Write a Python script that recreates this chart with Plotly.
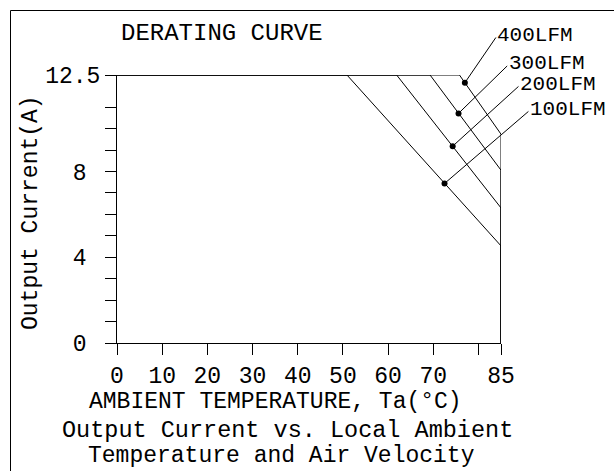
import plotly.graph_objects as go

# ---------------- data ----------------
airflow_labels = ["100LFM", "200LFM", "300LFM", "400LFM"]
derating_start_temp = [50.9, 61.9, 69.3, 75.8]     # °C where derating begins
current_at_85C = [4.53, 6.30, 8.06, 9.74]           # A at 85 °C
max_current = 12.5
max_temp = 85
marker_temp = [72.5, 74.3, 75.6, 77.0]
marker_current = [7.44, 9.18, 10.71, 12.14]
label_temp = [91.4, 89.2, 86.7, 84.1]
label_current = [10.86, 12.03, 12.99, 14.32]

x_tick_vals = [0, 10, 20, 30, 40, 50, 60, 70, 80, 85]
x_tick_text = ["0", "10", "20", "30", "40", "50", "60", "70", "", "85"]
y_tick_vals = [0, 1, 2, 3, 4, 5, 6, 7, 8, 9, 10, 11, 12.5]
y_tick_text = ["0\u00a0", "", "", "", "4\u00a0", "", "", "", "8\u00a0", "", "", "", "12.5"]

# ---------------- layout geometry ----------------
W, H = 614, 471
ML, MR, MT, MB = 117, 113, 75, 128
PW, PH = W - ML - MR, H - MT - MB


def px(x):
    return (x - ML) / PW


def py(y):
    return (H - MB - y) / PH


FONT = "Liberation Mono"
BLACK = "#000000"

fig = go.Figure()

# derating curves
for i, name in enumerate(airflow_labels):
    fig.add_trace(go.Scatter(
        x=[0, derating_start_temp[i], max_temp, max_temp],
        y=[max_current, max_current, current_at_85C[i], 0],
        mode="lines",
        line=dict(color=BLACK, width=1),
        cliponaxis=False,
        hoverinfo="skip",
        showlegend=False,
        name=name,
    ))

# dots on curves
fig.add_trace(go.Scatter(
    x=marker_temp, y=marker_current, mode="markers",
    marker=dict(color=BLACK, size=6),
    cliponaxis=False, hoverinfo="skip", showlegend=False,
))

annotations = []
for i, name in enumerate(airflow_labels):
    # leader line from the dot to the label
    annotations.append(dict(
        x=marker_temp[i], y=marker_current[i], xref="x", yref="y",
        ax=label_temp[i], ay=label_current[i], axref="x", ayref="y",
        text="", showarrow=True, arrowhead=0, arrowwidth=1,
        arrowcolor=BLACK, standoff=0, startstandoff=0,
    ))
    # label text (axis fraction, since it lies outside the axis range)
    annotations.append(dict(
        x=label_temp[i] / max_temp, y=label_current[i] / max_current,
        xref="paper", yref="paper",
        text=name, showarrow=False, xanchor="left", yanchor="middle",
        xshift=-1, yshift=1, height=18, borderpad=0, valign="middle",
        font=dict(family=FONT, size=21, color=BLACK),
    ))

annotations += [
    dict(x=px(222), y=py(34), xref="paper", yref="paper", text="DERATING CURVE",
         showarrow=False, xanchor="center", yanchor="middle",
         font=dict(family=FONT, size=24, color=BLACK)),
    dict(x=px(275), y=py(402), xref="paper", yref="paper",
         text="AMBIENT TEMPERATURE, Ta(°C)",
         showarrow=False, xanchor="center", yanchor="middle",
         font=dict(family=FONT, size=23, color=BLACK)),
    dict(x=px(287), y=py(430), xref="paper", yref="paper",
         text="Output Current vs. Local Ambient",
         showarrow=False, xanchor="center", yanchor="middle",
         font=dict(family=FONT, size=23.5, color=BLACK)),
    dict(x=px(281), y=py(456), xref="paper", yref="paper",
         text="Temperature and Air Velocity",
         showarrow=False, xanchor="center", yanchor="middle",
         font=dict(family=FONT, size=23, color=BLACK)),
    dict(x=px(31), y=py(213), xref="paper", yref="paper",
         text="Output Current(A)", textangle=-90,
         showarrow=False, xanchor="center", yanchor="middle",
         font=dict(family=FONT, size=23, color=BLACK)),
]

fig.update_layout(
    width=W, height=H,
    margin=dict(l=ML, r=MR, t=MT, b=MB, pad=0),
    paper_bgcolor="white", plot_bgcolor="white",
    showlegend=False,
    annotations=annotations,
    shapes=[dict(type="rect", xref="paper", yref="paper",
                 x0=px(10.5), y0=py(490), x1=px(640), y1=py(10.5),
                 line=dict(color=BLACK, width=1), fillcolor="rgba(0,0,0,0)",
                 layer="below")],
    xaxis=dict(
        range=[0, max_temp], showgrid=False, zeroline=False,
        showline=True, linecolor=BLACK, linewidth=1,
        ticks="outside", ticklen=11, tickcolor=BLACK, tickwidth=1,
        tickmode="array", tickvals=x_tick_vals, ticktext=x_tick_text,
        tickfont=dict(family=FONT, size=23, color=BLACK),
        fixedrange=True,
    ),
    yaxis=dict(
        range=[0, max_current], showgrid=False, zeroline=False,
        showline=True, linecolor=BLACK, linewidth=1,
        ticks="outside", ticklen=11, tickcolor=BLACK, tickwidth=1,
        tickmode="array", tickvals=y_tick_vals, ticktext=y_tick_text,
        tickfont=dict(family=FONT, size=23, color=BLACK),
        fixedrange=True,
    ),
)

fig.write_html("out.html")
